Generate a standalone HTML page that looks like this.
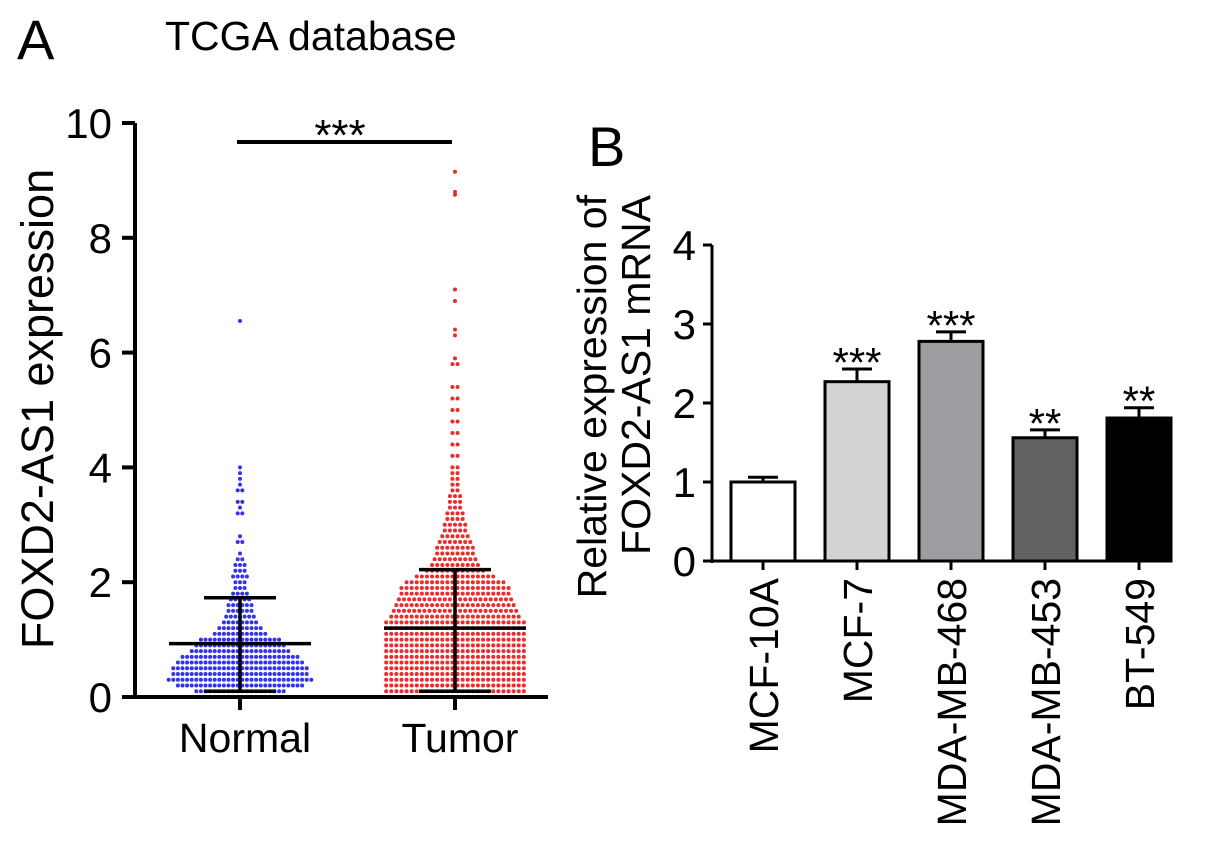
<!DOCTYPE html>
<html><head><meta charset="utf-8"><style>
body{margin:0;background:#fff;}
svg text{font-family:"Liberation Sans",Arial,sans-serif;fill:#000;}
</style></head><body>
<svg id="fig" width="1205" height="840" viewBox="0 0 1205 840" xmlns="http://www.w3.org/2000/svg">
<text x="17" y="59" font-size="56">A</text>
<text x="165" y="50" font-size="41">TCGA database</text>
<text x="588" y="166" font-size="56">B</text>
<text transform="translate(53,409) rotate(-90)" text-anchor="middle" font-size="45">FOXD2-AS1 expression</text>
<text transform="translate(606,195) rotate(-90)" text-anchor="end" font-size="41">Relative expression of</text>
<text transform="translate(650,195) rotate(-90)" text-anchor="end" font-size="41">FOXD2-AS1 mRNA</text>
<g id="ga"></g><g id="gb"></g>
</svg>
<script>
// Panel A data: histogram bins (value, count) read from the beeswarm
const normalBins=[0.1,0.2,0.3,0.4,0.5,0.6,0.7,0.8,0.9,1.0,1.1,1.2,1.3,1.4,1.5,1.6,1.7,1.8,1.9,2.0,2.1,2.2,2.3,2.4,2.5,2.7,2.8,3.2,3.3,3.4,3.6,3.7,3.8,3.9,4.0,6.55];
const normalCounts=[20,28,32,30,30,28,26,22,20,18,12,10,8,7,6,6,5,4,3,3,4,3,3,2,1,2,1,2,1,2,2,1,1,1,1,1];
const tumorBins=[0.1,0.2,0.3,0.4,0.5,0.6,0.7,0.8,0.9,1.0,1.1,1.2,1.3,1.4,1.5,1.6,1.7,1.8,1.9,2.0,2.1,2.2,2.3,2.4,2.5,2.6,2.7,2.8,2.9,3.0,3.1,3.2,3.3,3.4,3.5,3.6,3.7,3.8,3.9,4.0,4.2,4.4,4.6,4.8,5.0,5.2,5.4,5.8,5.9,6.3,6.4,6.9,7.1,8.75,8.8,9.15];
const tumorCounts=[28,28,28,28,28,28,28,28,28,28,28,28,28,26,25,24,23,22,22,20,16,12,10,9,8,8,7,6,5,5,4,4,3,3,3,2,2,2,2,2,2,2,2,2,2,2,2,2,1,1,1,1,1,1,1,1];
const groups=["Normal","Tumor"];
const groupMeans=[0.93,1.2];
const groupSdTop=[1.73,2.22];
const groupSdBottom=[0.1,0.1];
const yTicksA=[0,2,4,6,8,10];
// Panel B data
const cellLines=["MCF-10A","MCF-7","MDA-MB-468","MDA-MB-453","BT-549"];
const relExpr=[1.0,2.27,2.78,1.56,1.81];
const relErr=[0.06,0.16,0.12,0.10,0.13];
const sigLabels=["","***","***","**","**"];
const yTicksB=[0,1,2,3,4];

const NS="http://www.w3.org/2000/svg";
function mk(tag,attrs,parent,txt){const e=document.createElementNS(NS,tag);for(const k in attrs)e.setAttribute(k,attrs[k]);if(txt!==undefined)e.textContent=txt;parent.appendChild(e);return e;}
// Panel A
const ga=document.getElementById('ga');
const yA=v=>697-v*57.4;
const xA=i=>[240,455][i];
mk('line',{x1:135,y1:123,x2:135,y2:699,stroke:'#000','stroke-width':4},ga);
mk('line',{x1:133,y1:697,x2:548,y2:697,stroke:'#000','stroke-width':4},ga);
yTicksA.forEach(t=>{
 const l=mk('line',{x1:122,y1:yA(t),x2:135,y2:yA(t),stroke:'#000','stroke-width':4},ga);
 
 const tx=mk('text',{x:112,y:yA(t)+15,'text-anchor':'end','font-size':42},ga,String(t));
 
});
const binsets=[[normalBins,normalCounts,'#3333ee'],[tumorBins,tumorCounts,'#ee2a2a']];
binsets.forEach((bs,gi)=>{
 const g=mk('g',{},ga);
 
 
 bs[0].forEach((v,bi)=>{
  const n=bs[1][bi];
  for(let k=0;k<n;k++){
   const off=(k-(n-1)/2)*(gi===0?4.6:5.1);
   const c=mk('circle',{cx:xA(gi)+off,cy:yA(v),r:2,fill:bs[2]},g);
   
   
  }
 });
 const eb=mk('g',{stroke:'#000','stroke-width':3.5},ga);
 
 
 const x=xA(gi);
 mk('line',{x1:x,y1:yA(groupSdTop[gi]),x2:x,y2:yA(groupSdBottom[gi])},eb);
 mk('line',{x1:x-71,y1:yA(groupMeans[gi]),x2:x+71,y2:yA(groupMeans[gi])},eb);
 mk('line',{x1:x-36,y1:yA(groupSdTop[gi]),x2:x+36,y2:yA(groupSdTop[gi])},eb);
 mk('line',{x1:x-36,y1:yA(groupSdBottom[gi]),x2:x+36,y2:yA(groupSdBottom[gi])},eb);
 const tk=mk('line',{x1:x,y1:697,x2:x,y2:710,stroke:'#000','stroke-width':4},ga);
 
 const lb=mk('text',{x:x+5,y:752,'text-anchor':'middle','font-size':41},ga,groups[gi]);
 
 
});
const sb=mk('line',{x1:237,y1:142,x2:452,y2:142,stroke:'#000','stroke-width':4},ga);

const st=mk('text',{x:340,y:150,'text-anchor':'middle','font-size':44},ga,'***');

// Panel B
const gb=document.getElementById('gb');
const yB=v=>561-v*79;
const xB=i=>763+i*94;
const fills=['#ffffff','#d3d3d3','#9d9da1','#626262','#000000'];
mk('line',{x1:712,y1:245,x2:712,y2:563,stroke:'#000','stroke-width':3},gb);
mk('line',{x1:710,y1:561,x2:1172,y2:561,stroke:'#000','stroke-width':3},gb);
yTicksB.forEach(t=>{
 mk('line',{x1:703,y1:yB(t),x2:712,y2:yB(t),stroke:'#000','stroke-width':3},gb);
 const tx=mk('text',{x:696,y:yB(t)+15,'text-anchor':'end','font-size':42},gb,String(t));
 
});
cellLines.forEach((c,i)=>{
 const x=xB(i),v=relExpr[i],e=relErr[i];
 mk('line',{x1:x,y1:yB(v),x2:x,y2:yB(v+e),stroke:'#000','stroke-width':3},gb);
 mk('line',{x1:x-15,y1:yB(v+e),x2:x+15,y2:yB(v+e),stroke:'#000','stroke-width':3},gb);
 const b=mk('rect',{x:x-32,y:yB(v),width:64,height:561-yB(v),fill:fills[i],stroke:'#000','stroke-width':3},gb);
 
 
 if(sigLabels[i]){const s=mk('text',{x:x,y:yB(v+e)+8,'text-anchor':'middle','font-size':42},gb,sigLabels[i]);
  }
 mk('line',{x1:x,y1:561,x2:x,y2:570,stroke:'#000','stroke-width':3},gb);
 const lb=mk('text',{transform:`translate(${x+15},578) rotate(-90)`,'text-anchor':'end','font-size':41},gb,c);
 
 
});
</script>
</body></html>
